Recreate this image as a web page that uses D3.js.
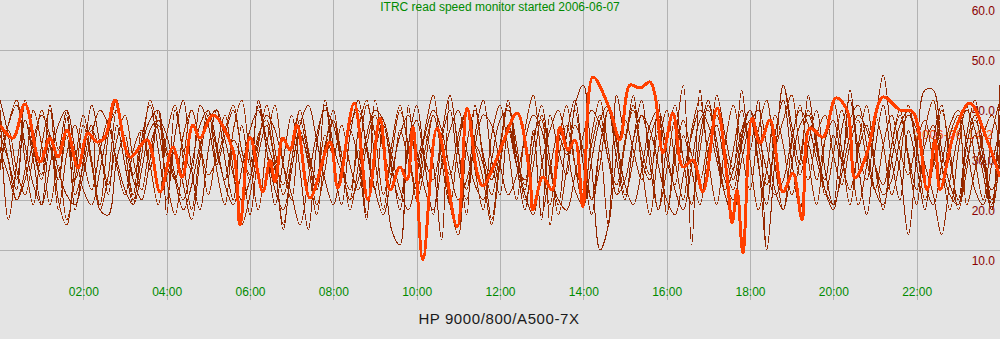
<!DOCTYPE html>
<html>
<head>
<meta charset="utf-8">
<script src="https://cdn.jsdelivr.net/npm/d3@7"></script>
<style>
  html, body { margin: 0; padding: 0; background: #e4e4e4; }
  svg { display: block; }
  text { font-family: "Liberation Sans", Arial, Helvetica, sans-serif; }
</style>
</head>
<body>
<svg id="chart" width="1000" height="339"></svg>
<script>
// ---- text -------------------------------------------------------------
const titleText = "ITRC read speed monitor started 2006-06-07";
const hostText = "HP 9000/800/A500-7X";
const todayText = "2006-06-14 2";

// ---- ticks ------------------------------------------------------------
const hourTicks = [2, 4, 6, 8, 10, 12, 14, 16, 18, 20, 22];
const hourTickLabels = ["02:00", "04:00", "06:00", "08:00", "10:00", "12:00",
                        "14:00", "16:00", "18:00", "20:00", "22:00"];
const speedTicks = [10, 20, 30, 40, 50, 60];
const speedTickLabels = ["10.0", "20.0", "30.0", "40.0", "50.0", "60.0"];

// ---- previous days: read speed (MB/s) sampled every 12 minutes ----------
const sampleStepHours = 0.2;
const day1 = [
  38,16,27,36,30,24,33,18,29,35,
  28,22,30,36,27,21,30,34,26,38,
  25,30,23,16,28,37,30,24,32,28,
  17,29,35,27,15,26,33,28,22,31,
  36,27,22,30,17,30,35,26,20,31,
  36,28,24,33,41,30,22,31,27,16,
  28,34,27,24,33,17,26,33,29,38,
  27,20,30,15,29,36,30,24,32,37,
  28,23,33,26,19,30,35,27,22,31,
  36,28,10,28,43,33,25,31,24,32,
  36,28,22,30,35,27,23,31,37,29,
  22,31,35,27,21,19,28,33,25,18,
  29];
const day2 = [
  33,28,22,40,31,25,39,30,38,24,
  30,35,18,17,28,33,25,31,36,38,
  17,38,30,26,39,35,27,33,38,30,
  24,40,32,26,14,28,36,29,24,40,
  31,26,34,28,16,40,30,14,11,39,
  28,33,27,12,41,30,17,39,29,24,
  31,40,27,22,34,16,37,30,25,39,
  43,27,10,15,41,33,41,28,24,40,
  17,31,43,11,42,29,41,33,26,42,
  30,40,10,28,43,35,27,41,30,24,
  33,28,42,30,24,35,45,33,26,13,
  29,42,42,30,23,19,31,37,28,18,
  43];
const day3 = [
  30,34,26,21,29,38,31,24,33,21,
  27,34,30,23,32,37,28,22,31,35,
  29,24,33,38,31,25,28,34,39,30,
  25,33,36,28,23,31,38,30,24,33,
  29,35,27,22,31,37,30,25,34,28,
  22,30,37,30,25,33,38,31,24,15,
  27,35,29,23,33,36,15,28,35,27,
  22,31,37,28,23,32,38,30,25,34,
  17,28,36,29,24,32,37,30,24,33,
  38,31,23,30,36,41,30,24,33,37,
  29,23,31,36,28,22,31,37,30,25,
  32,36,28,24,33,37,19,26,33,37,
  31];
const day4 = [
  40,33,24,36,28,19,31,24,37,18,
  28,39,31,21,35,27,19,32,39,30,
  20,33,40,26,18,30,38,28,20,35,
  27,39,30,19,28,37,26,14,31,39,
  28,19,33,40,30,22,35,27,18,31,
  39,27,17,32,38,26,20,33,40,28,
  21,35,27,18,31,39,28,19,33,40,
  27,17,31,38,28,20,32,40,27,18,
  31,39,28,19,33,40,30,21,17,32,
  38,27,19,33,40,28,18,31,38,26,
  19,34,40,27,17,30,39,28,20,34,
  27,18,32,39,28,20,33,40,30,19,
  37];
const day5 = [
  26,35,40,28,19,31,38,20,15,27,
  37,28,19,33,40,30,21,34,27,19,
  33,39,28,18,30,38,26,19,34,40,
  28,18,31,39,27,20,34,27,17,30,
  38,27,20,34,40,28,18,31,39,30,
  22,34,41,28,19,31,38,26,18,33,
  39,30,20,34,41,28,19,31,39,27,
  19,33,40,30,21,31,39,27,17,30,
  38,28,20,34,40,28,19,31,39,30,
  22,34,40,27,18,31,39,28,19,32,
  40,30,19,31,39,27,18,31,38,28,
  19,34,40,27,18,30,39,28,20,33,
  40];
const day6 = [
  30,25,20,24,32,37,33,26,21,19,
  25,33,38,35,28,22,19,26,34,36,
  30,24,18,23,31,36,38,32,25,20,
  24,32,37,34,27,21,15,24,33,38,
  35,27,20,24,33,38,36,29,22,18,
  25,33,38,34,26,20,24,31,37,35,
  27,21,25,32,37,34,26,20,18,25,
  33,38,35,28,21,24,32,37,34,27,
  20,17,25,33,38,35,28,22,26,34,
  38,33,26,21,24,32,38,35,28,22,
  19,25,33,37,34,27,21,24,32,37,
  34,27,21,13,24,33,38,34,27,22,
  27];
const day7 = [
  37,28,20,26,38,31,19,27,16,24,
  35,27,18,25,38,30,20,29,40,34,
  24,17,28,38,31,21,30,37,26,15,
  21,31,39,30,21,28,38,30,19,26,
  36,29,18,27,39,33,21,29,38,31,
  20,27,37,30,19,13,31,38,28,21,
  30,39,31,20,27,37,28,17,26,35,
  30,20,27,38,31,21,28,37,30,18,
  26,36,28,19,30,39,32,22,30,38,
  28,18,26,37,31,21,28,38,32,21,
  29,38,30,19,27,37,31,21,28,39,
  31,20,27,38,30,18,26,36,30,20,
  31];
const day8 = [
  27,35,39,31,23,19,27,35,38,30,
  22,19,26,34,38,31,24,20,28,36,
  33,25,20,27,35,38,31,23,19,26,
  34,38,30,22,18,26,35,39,32,24,
  19,27,35,38,31,22,17,25,33,37,
  30,22,18,27,34,38,30,23,20,28,
  36,38,29,21,17,27,34,38,31,22,
  19,28,36,39,32,23,19,26,35,38,
  30,22,18,27,36,38,30,24,20,28,
  35,38,31,22,18,27,35,37,31,22,
  18,27,36,39,31,22,19,28,35,38,
  30,23,19,27,35,38,31,22,19,27,
  34];
const previousDays = [day1, day2, day3, day4, day5, day6, day7, day8];

// ---- current day: read speed (MB/s) at logged hours ----------------------
const todayHours = [
  0.00, 0.31, 0.60, 0.96, 1.20, 1.39, 1.61, 1.87, 2.11, 2.33,
  2.52, 2.76, 3.12, 3.53, 3.84, 4.15, 4.37, 4.63, 4.80, 5.11,
  5.59, 5.76, 6.00, 6.31, 6.48, 6.60, 6.79, 6.96, 7.13, 7.44,
  7.92, 8.11, 8.50, 8.83, 9.12, 9.36, 9.60, 9.77, 9.91, 10.15,
  10.49, 10.97, 11.21, 11.45, 11.59, 11.83, 12.07, 12.41, 12.72, 12.79,
  13.03, 13.25, 13.44, 13.63, 13.80, 13.99, 14.23, 14.64, 14.88, 15.12,
  15.36, 15.60, 15.72, 15.91, 16.15, 16.39, 16.63, 16.87, 17.21, 17.45,
  17.57, 17.69, 17.83, 18.05, 18.24, 18.48, 18.79, 19.03, 19.25, 19.44,
  19.75, 20.06, 20.33, 20.52, 20.81, 21.19, 21.60, 21.91, 22.25, 22.44,
  22.56, 22.92, 23.28, 23.69, 24.00];
const todaySpeed = [
  35.0, 32.4, 39.2, 27.6, 32.4, 28.6, 34.0, 26.4, 33.4, 31.6,
  32.6, 40.0, 28.6, 32.0, 21.6, 30.6, 24.6, 35.0, 32.4, 37.0,
  30.0, 15.0, 32.6, 21.6, 28.0, 23.6, 32.4, 30.0, 35.0, 20.4,
  31.6, 22.4, 39.4, 20.0, 36.4, 22.0, 26.6, 24.0, 34.6, 8.0,
  34.4, 14.6, 38.4, 25.6, 22.8, 26.4, 31.4, 37.4, 24.6, 18.0,
  24.6, 22.0, 34.6, 30.0, 32.0, 18.6, 44.6, 38.0, 32.0, 43.0,
  42.4, 43.6, 41.0, 29.4, 37.4, 26.6, 28.0, 21.6, 38.4, 24.6,
  15.4, 22.0, 9.4, 36.4, 31.4, 36.0, 21.6, 25.4, 16.0, 34.4,
  32.6, 40.4, 38.0, 24.4, 29.4, 40.6, 38.0, 37.6, 22.0, 32.0,
  22.0, 34.0, 39.4, 32.0, 24.6];

// ---- drawing ------------------------------------------------------------
const W = 1000, H = 339, plotBottom = 300;
const svg = d3.select("#chart");

svg.append("rect").attr("width", W).attr("height", H).attr("fill", "#e4e4e4");

const x = d3.scaleLinear().domain([0, 24]).range([0, W]);
const y = d3.scaleLinear().domain([0, 60]).range([plotBottom, 0]);

// vertical grid + hour labels
const xAxis = d3.axisBottom(x)
  .tickValues(hourTicks)
  .tickFormat((d, i) => hourTickLabels[i])
  .tickSize(-plotBottom)
  .tickSizeOuter(0);
const gx = svg.append("g")
  .attr("transform", `translate(0,${plotBottom - 0.5})`)
  .call(xAxis);
gx.select(".domain").remove();
gx.selectAll(".tick line")
  .attr("stroke", "#b2b2b2")
  .attr("shape-rendering", "crispEdges");
gx.selectAll(".tick text")
  .attr("y", -4)
  .attr("dy", 0)
  .attr("fill", "#008a00")
  .attr("font-size", 12);

// horizontal grid + speed labels on the right
const yAxis = d3.axisLeft(y)
  .tickValues(speedTicks)
  .tickFormat((d, i) => speedTickLabels[i])
  .tickSize(W)
  .tickSizeOuter(0);
const gy = svg.append("g")
  .attr("transform", `translate(${W},0)`)
  .call(yAxis);
gy.select(".domain").remove();
gy.selectAll(".tick line")
  .attr("stroke", d => d >= 60 ? "none" : "#b2b2b2")
  .attr("shape-rendering", "crispEdges");
gy.selectAll(".tick text")
  .attr("x", -5)
  .attr("dy", 14)
  .attr("fill", "#8a0000")
  .attr("font-size", 12);

// date tag of the current day, sitting beneath the traces
svg.append("text")
  .attr("x", x(21.96))
  .attr("y", y(32.3))
  .attr("fill", "#ff4400")
  .attr("font-size", 12)
  .attr("letter-spacing", 0.6)
  .text(todayText);

const line = d3.line()
  .x(d => x(d[0]))
  .y(d => y(d[1]))
  .curve(d3.curveCatmullRom.alpha(0.5));

const prevColors = ["#9a2a00", "#922600", "#a03000", "#8e2400",
                    "#9c2e00", "#962800", "#a02e00", "#932700"];

previousDays.forEach((vals, k) => {
  const pts = vals.map((v, i) => [i * sampleStepHours, v]);
  svg.append("path")
    .attr("d", line(pts))
    .attr("fill", "none")
    .attr("stroke", prevColors[k % prevColors.length])
    .attr("stroke-width", 1)
    .attr("shape-rendering", "crispEdges");
});

const todayPts = todayHours.map((h, i) => [h, todaySpeed[i]]);
svg.append("path")
  .attr("d", line(todayPts))
  .attr("fill", "none")
  .attr("stroke", "#ff4000")
  .attr("stroke-width", 3)
  .attr("stroke-linejoin", "round")
  .attr("shape-rendering", "crispEdges");

// title and host name
svg.append("text")
  .attr("x", W / 2)
  .attr("y", 11)
  .attr("text-anchor", "middle")
  .attr("fill", "#008a00")
  .attr("font-size", 12)
  .text(titleText);

svg.append("text")
  .attr("x", 499)
  .attr("y", 324)
  .attr("text-anchor", "middle")
  .attr("fill", "#1a1a1a")
  .attr("font-size", 15)
  .attr("letter-spacing", 0.6)
  .text(hostText);
</script>
</body>
</html>
